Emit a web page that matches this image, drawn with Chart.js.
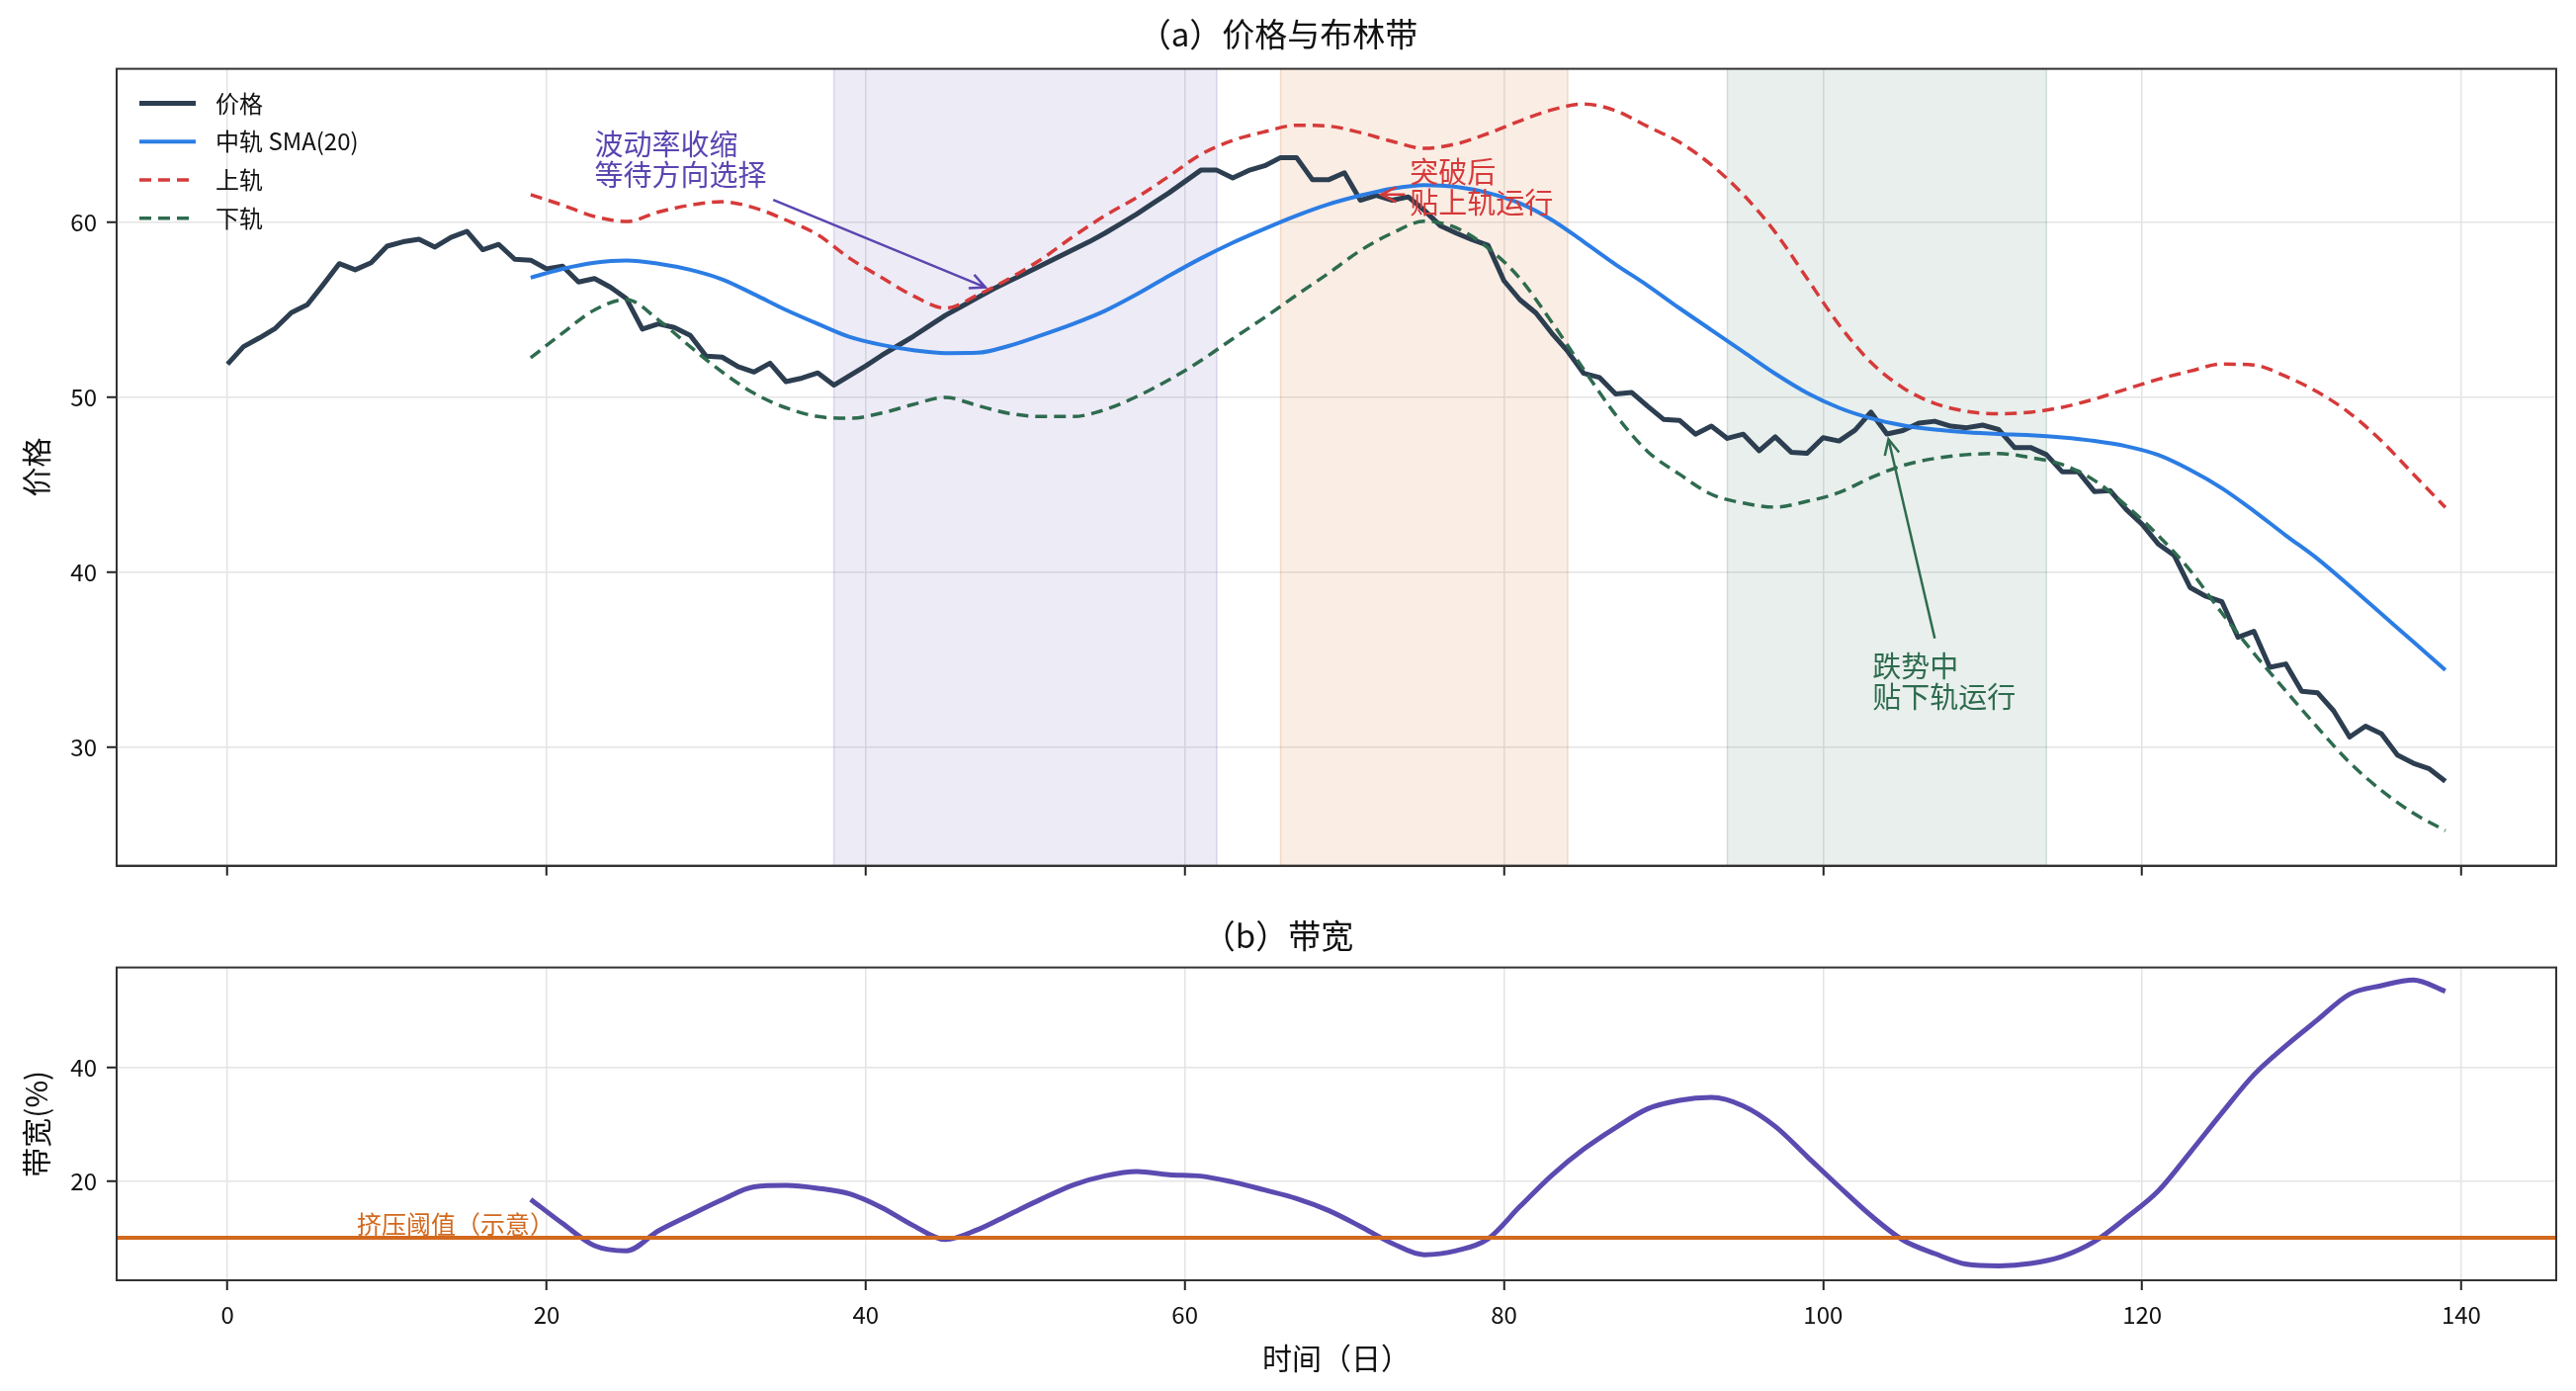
<!DOCTYPE html>
<html>
<head>
<meta charset="utf-8">
<script src="https://cdn.jsdelivr.net/npm/chart.js@4.4.1/dist/chart.umd.min.js"></script>
<style>
html, body { margin: 0; padding: 0; background: #fff; }
#wrap { position: relative; width: 2606px; height: 1407px; }
#top { position: absolute; left: 0; top: 0; width: 2606px; height: 900px; }
#bot { position: absolute; left: 0; top: 900px; width: 2606px; height: 507px; }
</style>
</head>
<body>
<div id="wrap">
  <div id="top"><canvas id="priceChart"></canvas></div>
  <div id="bot"><canvas id="bwChart"></canvas></div>
</div>
<script>
// daily close, day 0 .. 139
var price = [51.9, 52.9, 53.4, 53.95, 54.85, 55.3, 56.45, 57.65, 57.3, 57.7,
  58.65, 58.9, 59.05, 58.6, 59.15, 59.5, 58.45, 58.75, 57.9, 57.85,
  57.35, 57.5, 56.6, 56.8, 56.3, 55.65, 53.9, 54.2, 54.0, 53.55,
  52.35, 52.3, 51.75, 51.45, 51.95, 50.9, 51.1, 51.4, 50.7, 51.25,
  51.8, 52.4, 52.95, 53.5, 54.1, 54.7, 55.2, 55.7, 56.2, 56.65,
  57.1, 57.55, 58.0, 58.45, 58.9, 59.4, 59.95, 60.5, 61.1, 61.7,
  62.35, 63.0, 63.0, 62.55, 62.98, 63.25, 63.72, 63.72, 62.45, 62.45,
  62.85, 61.28, 61.56, 61.28, 61.47, 60.71, 59.83, 59.4, 59.02, 58.7,
  56.67, 55.58, 54.83, 53.67, 52.63, 51.37, 51.13, 50.19, 50.28, 49.49,
  48.74, 48.68, 47.89, 48.35, 47.65, 47.89, 46.94, 47.74, 46.86, 46.8,
  47.69, 47.5, 48.12, 49.15, 47.9, 48.1, 48.52, 48.63, 48.35, 48.26,
  48.41, 48.16, 47.13, 47.13, 46.72, 45.73, 45.73, 44.61, 44.66, 43.58,
  42.73, 41.61, 40.96, 39.12, 38.61, 38.3, 36.27, 36.61, 34.55, 34.74,
  33.18, 33.09, 32.06, 30.56, 31.18, 30.75, 29.53, 29.06, 28.74, 28.03];

// band values read every second day
var bandDays = [19, 21, 23, 25, 27, 29, 31, 33, 35, 37,
  39, 41, 43, 45, 47, 49, 51, 53, 55, 57,
  59, 61, 63, 65, 67, 69, 71, 73, 75, 77,
  79, 81, 83, 85, 87, 89, 91, 93, 95, 97,
  99, 101, 103, 105, 107, 109, 111, 113, 115, 117,
  119, 121, 123, 125, 127, 129, 131, 133, 135, 137, 139];

var midBand = [56.85, 57.35, 57.7, 57.83, 57.65, 57.3, 56.75, 55.9, 55.0, 54.2,
  53.45, 53.0, 52.7, 52.53, 52.55, 52.95, 53.55, 54.2, 54.95, 55.9,
  56.95, 57.95, 58.85, 59.65, 60.4, 61.05, 61.55, 61.95, 62.15, 62.05,
  61.7, 61.1, 60.15, 58.9, 57.6, 56.4, 55.1, 53.85, 52.6, 51.35,
  50.25, 49.4, 48.8, 48.4, 48.15, 48.0, 47.9, 47.83, 47.7, 47.5,
  47.2, 46.7, 45.85, 44.8, 43.5, 42.1, 40.75, 39.2, 37.6, 36.0, 34.4];

var upperBand = [61.6, 61.0, 60.35, 60.06, 60.6, 61.0, 61.19, 60.85, 60.15, 59.3,
  57.95, 56.85, 55.8, 55.1, 55.85, 56.8, 57.9, 59.2, 60.4, 61.45,
  62.65, 63.9, 64.7, 65.2, 65.57, 65.52, 65.15, 64.65, 64.25, 64.5,
  65.1, 65.82, 66.45, 66.79, 66.4, 65.5, 64.6, 63.3, 61.6, 59.45,
  56.8, 54.15, 52.0, 50.55, 49.65, 49.2, 49.06, 49.15, 49.43, 49.9,
  50.47, 51.03, 51.5, 51.9, 51.85, 51.2, 50.3, 49.1, 47.5, 45.6, 43.7];

var lowerBand = [52.26, 53.68, 55.0, 55.6, 54.43, 52.9, 51.45, 50.23, 49.4, 48.9,
  48.8, 49.1, 49.6, 50.0, 49.53, 49.08, 48.9, 48.9, 49.3, 50.05,
  51.0, 52.1, 53.35, 54.57, 55.85, 57.1, 58.4, 59.4, 60.08, 59.7,
  58.55, 56.8, 54.3, 51.6, 49.0, 46.9, 45.6, 44.45, 43.95, 43.72,
  44.05, 44.55, 45.4, 46.1, 46.5, 46.72, 46.78, 46.55, 46.15, 45.25,
  43.8, 42.1, 40.1, 37.65, 35.35, 33.2, 31.1, 29.1, 27.5, 26.2, 25.2];

var bandWidth = [16.75, 12.5, 8.6, 7.7, 11.2, 14.0, 16.7, 18.96, 19.2, 18.7,
  17.7, 15.3, 12.1, 9.68, 11.4, 14.1, 16.8, 19.3, 20.9, 21.65,
  21.1, 20.85, 19.8, 18.4, 16.9, 14.8, 12.0, 9.0, 7.0, 7.7,
  9.8, 15.5, 21.0, 25.6, 29.4, 32.7, 34.2, 34.7, 33.2, 29.6,
  24.3, 19.0, 13.9, 9.6, 7.2, 5.33, 5.04, 5.45, 6.7, 9.3,
  13.5, 18.2, 25.0, 32.0, 38.7, 43.8, 48.4, 52.9, 54.4, 55.4, 53.4];

var squeezeLevel = 10;
var xTicks = [0, 20, 40, 60, 80, 100, 120, 140];
var priceTicks = [30, 40, 50, 60];
var widthTicks = [20, 40];

var X_MIN = -6.95, X_MAX = 145.95;
var FONT = "'Noto Sans CJK SC', 'Noto Sans', sans-serif";

Chart.defaults.font.family = FONT;
Chart.defaults.color = '#111';

var C_PRICE = '#2c3e50';
var C_MID = '#2b7de4';
var C_UP = '#d63a3a';
var C_LOW = '#2e6b4f';
var C_BW = '#5b4ab0';
var C_SQ = '#d2691e';

function pts(xs, ys) {
  return ys.map(function (v, i) { return {x: xs[i], y: v}; });
}
var priceDays = price.map(function (v, i) { return i; });

function setTicks(list) {
  return function (scale) {
    scale.ticks = list.map(function (v) { return {value: v}; });
  };
}

var gridOpts = {color: '#e4e4e4', lineWidth: 1.5, tickLength: 10, tickColor: '#222', tickWidth: 2};
var borderOpts = {display: true, color: '#333', width: 2};

// shaded periods + frame + legend + notes
var spans = [
  {from: 38, to: 62, fill: 'rgba(91,74,176,0.11)', edge: 'rgba(91,74,176,0.18)'},
  {from: 66, to: 84, fill: 'rgba(210,105,30,0.12)', edge: 'rgba(210,105,30,0.2)'},
  {from: 94, to: 114, fill: 'rgba(46,107,79,0.11)', edge: 'rgba(46,107,79,0.18)'}
];

var legendItems = [
  {text: '价格', color: C_PRICE, width: 5, dash: []},
  {text: '中轨 SMA(20)', color: C_MID, width: 4, dash: []},
  {text: '上轨', color: C_UP, width: 3.5, dash: [12, 7]},
  {text: '下轨', color: C_LOW, width: 3.5, dash: [12, 7]}
];

var notes = [
  {lines: ['波动率收缩', '等待方向选择'], color: '#5b45b0', tx: 23.0, ty: 64.5, fx: 34.2, fy: 61.3, hx: 47.5, hy: 56.3},
  {lines: ['突破后', '贴上轨运行'], color: '#d63a3a', tx: 74.1, ty: 62.9, fx: 73.8, fy: 61.6, hx: 72.3, hy: 61.6},
  {lines: ['跌势中', '贴下轨运行'], color: '#2e6b4f', tx: 103.1, ty: 34.6, fx: 107.0, fy: 36.2, hx: 104.1, hy: 47.6}
];

var spanPlugin = {
  id: 'spans',
  beforeDatasetsDraw: function (chart) {
    var ctx = chart.ctx, a = chart.chartArea, xs = chart.scales.x;
    ctx.save();
    spans.forEach(function (s) {
      var x0 = xs.getPixelForValue(s.from), x1 = xs.getPixelForValue(s.to);
      ctx.fillStyle = s.fill;
      ctx.fillRect(x0, a.top, x1 - x0, a.bottom - a.top);
      ctx.strokeStyle = s.edge;
      ctx.lineWidth = 1.5;
      ctx.beginPath();
      ctx.moveTo(x0, a.top); ctx.lineTo(x0, a.bottom);
      ctx.moveTo(x1, a.top); ctx.lineTo(x1, a.bottom);
      ctx.stroke();
    });
    ctx.restore();
  }
};

var framePlugin = {
  id: 'frame',
  afterDatasetsDraw: function (chart) {
    var ctx = chart.ctx, a = chart.chartArea;
    ctx.save();
    ctx.strokeStyle = '#333';
    ctx.lineWidth = 2;
    ctx.strokeRect(a.left, a.top, a.right - a.left, a.bottom - a.top);
    ctx.restore();
  }
};

var legendPlugin = {
  id: 'boxLegend',
  afterDatasetsDraw: function (chart) {
    var ctx = chart.ctx, a = chart.chartArea;
    ctx.save();
    ctx.font = '24px ' + FONT;
    ctx.textBaseline = 'middle';
    ctx.textAlign = 'left';
    legendItems.forEach(function (it, i) {
      var y = a.top + 35 + i * 38.7;
      ctx.strokeStyle = it.color;
      ctx.lineWidth = it.width;
      ctx.setLineDash(it.dash);
      ctx.beginPath();
      ctx.moveTo(a.left + 23, y);
      ctx.lineTo(a.left + 80, y);
      ctx.stroke();
      ctx.setLineDash([]);
      ctx.fillStyle = '#111';
      ctx.fillText(it.text, a.left + 100, y);
    });
    ctx.restore();
  }
};

var notePlugin = {
  id: 'notes',
  afterDatasetsDraw: function (chart) {
    var ctx = chart.ctx, xs = chart.scales.x, ys = chart.scales.y;
    ctx.save();
    notes.forEach(function (n) {
      var fx = xs.getPixelForValue(n.fx), fy = ys.getPixelForValue(n.fy);
      var hx = xs.getPixelForValue(n.hx), hy = ys.getPixelForValue(n.hy);
      ctx.strokeStyle = n.color;
      ctx.lineWidth = 2.5;
      ctx.beginPath();
      ctx.moveTo(fx, fy);
      ctx.lineTo(hx, hy);
      var ang = Math.atan2(hy - fy, hx - fx);
      var len = 17, spread = 0.45;
      ctx.moveTo(hx - len * Math.cos(ang - spread), hy - len * Math.sin(ang - spread));
      ctx.lineTo(hx, hy);
      ctx.lineTo(hx - len * Math.cos(ang + spread), hy - len * Math.sin(ang + spread));
      ctx.stroke();

      ctx.font = '29px ' + FONT;
      ctx.fillStyle = n.color;
      ctx.textBaseline = 'middle';
      ctx.textAlign = 'left';
      var tx = xs.getPixelForValue(n.tx), ty = ys.getPixelForValue(n.ty);
      n.lines.forEach(function (line, i) {
        ctx.fillText(line, tx, ty + i * 31);
      });
    });
    ctx.restore();
  }
};

var squeezeLabelPlugin = {
  id: 'squeezeLabel',
  afterDatasetsDraw: function (chart) {
    var ctx = chart.ctx, xs = chart.scales.x, ys = chart.scales.y;
    ctx.save();
    ctx.font = '25px ' + FONT;
    ctx.fillStyle = C_SQ;
    ctx.textBaseline = 'bottom';
    ctx.textAlign = 'left';
    ctx.fillText('挤压阈值（示意）', xs.getPixelForValue(8.1), ys.getPixelForValue(squeezeLevel) - 1);
    ctx.restore();
  }
};

new Chart(document.getElementById('priceChart'), {
  type: 'line',
  data: {
    datasets: [
      {label: '价格', data: pts(priceDays, price), borderColor: C_PRICE, borderWidth: 5, tension: 0, order: 4},
      {label: '中轨 SMA(20)', data: pts(bandDays, midBand), borderColor: C_MID, borderWidth: 4, cubicInterpolationMode: 'monotone', order: 3},
      {label: '上轨', data: pts(bandDays, upperBand), borderColor: C_UP, borderWidth: 3.5, borderDash: [12, 7], cubicInterpolationMode: 'monotone', order: 2},
      {label: '下轨', data: pts(bandDays, lowerBand), borderColor: C_LOW, borderWidth: 3.5, borderDash: [12, 7], cubicInterpolationMode: 'monotone', order: 1}
    ]
  },
  options: {
    responsive: true,
    maintainAspectRatio: false,
    animation: false,
    devicePixelRatio: 1,
    elements: {point: {radius: 0}, line: {borderCapStyle: 'butt', borderJoinStyle: 'round'}},
    layout: {padding: {left: 0, right: 20, top: 0, bottom: 0}},
    plugins: {
      legend: {display: false},
      tooltip: {enabled: false},
      title: {display: true, text: '（a）价格与布林带', font: {size: 33, weight: 'normal'}, color: '#111', padding: {top: 15, bottom: 15}}
    },
    scales: {
      x: {
        type: 'linear', min: X_MIN, max: X_MAX,
        afterBuildTicks: setTicks(xTicks),
        afterFit: function (s) { s.height = 22; },
        ticks: {display: false},
        grid: gridOpts, border: borderOpts
      },
      y: {
        type: 'linear', min: 23.2, max: 68.8,
        afterBuildTicks: setTicks(priceTicks),
        afterFit: function (s) { s.width = 118; },
        ticks: {font: {size: 24}, color: '#111', padding: 10},
        grid: gridOpts, border: borderOpts,
        title: {display: true, text: '价格', font: {size: 30}, color: '#111', padding: {top: 19, bottom: 0}}
      }
    }
  },
  plugins: [spanPlugin, framePlugin, legendPlugin, notePlugin]
});

new Chart(document.getElementById('bwChart'), {
  type: 'line',
  data: {
    datasets: [
      {label: '带宽', data: pts(bandDays, bandWidth), borderColor: C_BW, borderWidth: 5, cubicInterpolationMode: 'monotone', order: 2},
      {label: '挤压阈值', data: [{x: X_MIN, y: squeezeLevel}, {x: X_MAX, y: squeezeLevel}], borderColor: C_SQ, borderWidth: 4, order: 1}
    ]
  },
  options: {
    responsive: true,
    maintainAspectRatio: false,
    animation: false,
    devicePixelRatio: 1,
    elements: {point: {radius: 0}, line: {borderCapStyle: 'butt', borderJoinStyle: 'round'}},
    layout: {padding: {left: 0, right: 20, top: 0, bottom: 0}},
    plugins: {
      legend: {display: false},
      tooltip: {enabled: false},
      title: {display: true, text: '（b）带宽', font: {size: 33, weight: 'normal'}, color: '#111', padding: {top: 27, bottom: 12}}
    },
    scales: {
      x: {
        type: 'linear', min: X_MIN, max: X_MAX,
        afterBuildTicks: setTicks(xTicks),
        afterFit: function (s) { s.height = 112; },
        ticks: {font: {size: 24}, color: '#111', padding: 10, maxRotation: 0},
        grid: gridOpts, border: borderOpts,
        title: {display: true, text: '时间（日）', font: {size: 30}, color: '#111', padding: {top: 0, bottom: 15}}
      },
      y: {
        type: 'linear', min: 2.5, max: 57.6,
        afterBuildTicks: setTicks(widthTicks),
        afterFit: function (s) { s.width = 118; },
        ticks: {font: {size: 24}, color: '#111', padding: 10},
        grid: gridOpts, border: borderOpts,
        title: {display: true, text: '带宽(%)', font: {size: 30}, color: '#111', padding: {top: 19, bottom: 0}}
      }
    }
  },
  plugins: [framePlugin, squeezeLabelPlugin]
});
</script>
</body>
</html>
